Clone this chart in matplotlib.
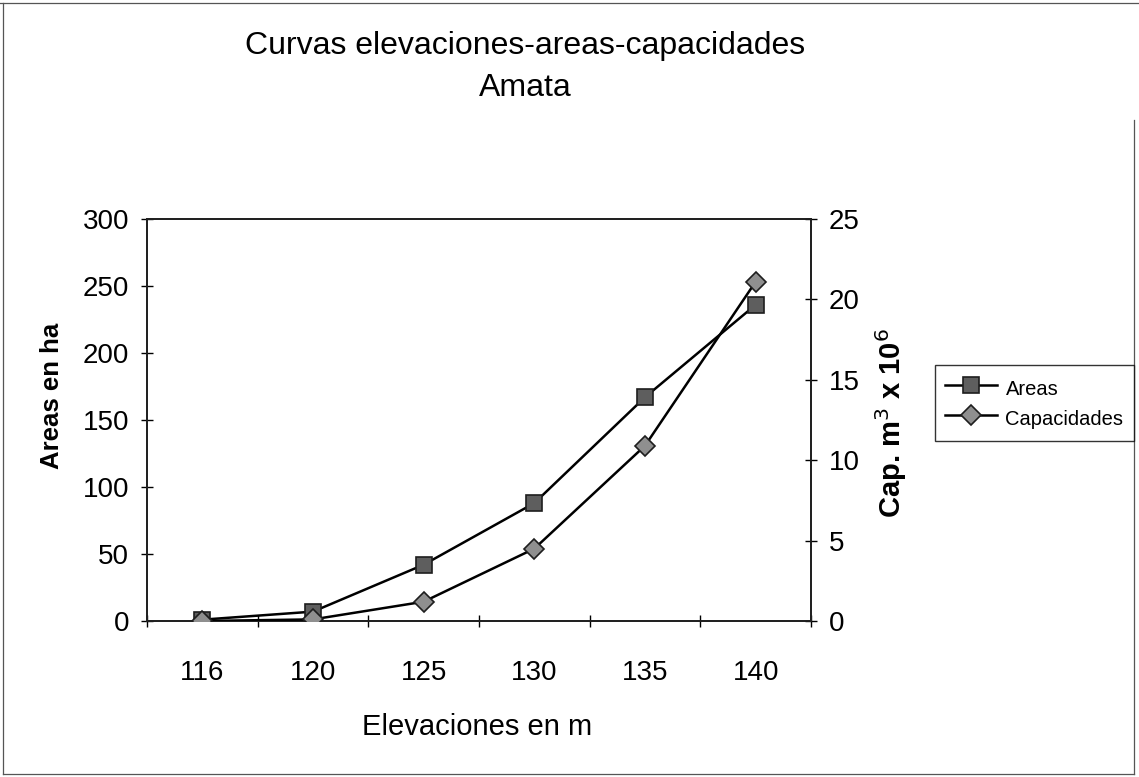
import matplotlib

matplotlib.use("Agg")

import matplotlib.pyplot as plt
from matplotlib.lines import Line2D

# Elevation-area-capacity table for the Amata reservoir
elevaciones = ["116", "120", "125", "130", "135", "140"]
areas_ha = [1, 7, 42, 88, 167, 236]
capacidades_hm3 = [0.0, 0.1, 1.2, 4.5, 10.9, 21.1]

plt.rcParams["font.family"] = ["Liberation Sans", "DejaVu Sans"]

W, H = 1139, 777
fig = plt.figure(figsize=(W / 100, H / 100), dpi=100)
ax = fig.add_axes([147 / W, 1 - 621 / H, 664 / W, 402 / H])
ax2 = ax.twinx()

pos = list(range(len(elevaciones)))
sq_style = dict(color="black", lw=1.8, marker="s", ms=11.5,
                mfc="#5e5e5e", mec="#1e1e1e", mew=1.2)
di_style = dict(color="black", lw=1.8, marker="D", ms=10.5,
                mfc="#8f8f8f", mec="#1e1e1e", mew=1.2)

ax.plot(pos, areas_ha, zorder=3, **sq_style)
ax2.plot(pos, capacidades_hm3, zorder=3, **di_style)

ax.set_xlim(-0.5, len(elevaciones) - 0.5)
ax.set_ylim(0, 300)
ax2.set_ylim(0, 25)
ax.set_yticks(range(0, 301, 50))
ax2.set_yticks(range(0, 26, 5))

# category labels sit between boundary tick marks
ax.set_xticks(pos)
ax.set_xticklabels(elevaciones)
ax.set_xticks([p - 0.5 for p in pos] + [pos[-1] + 0.5], minor=True)
ax.tick_params(axis="x", which="major", length=0, pad=28, labelsize=20)
ax.tick_params(axis="x", which="minor", direction="inout", length=8, width=1)
ax.tick_params(axis="y", direction="inout", length=8, width=1, pad=9,
               labelsize=20)
ax2.tick_params(axis="y", direction="inout", length=8, width=1, pad=9,
                labelsize=20)

for a in (ax, ax2):
    for side in a.spines.values():
        side.set_linewidth(1.3)
        side.set_color("#202020")

ax.set_ylabel("Areas en ha", fontsize=18.5, fontweight="bold")
ax.yaxis.set_label_coords(-0.125, 0.561)
ax2.set_ylabel("Cap. m$^3$ x 10$^6$", fontsize=21, fontweight="bold",
               rotation=90)
ax2.yaxis.set_label_coords(1.094, 0.4925)
ax.set_xlabel("Elevaciones en m", fontsize=21)
ax.xaxis.set_label_coords(0.497, -0.23)

fig.text(0.461, 1 - 46 / H, "Curvas elevaciones-areas-capacidades",
         ha="center", va="center", fontsize=23)
fig.text(0.461, 1 - 88 / H, "Amata", ha="center", va="center", fontsize=23)

handles = [Line2D([], [], **sq_style), Line2D([], [], **di_style)]
leg = fig.legend(handles, ["Areas", "Capacidades"], loc="upper left",
                 bbox_to_anchor=(935 / W, 1 - 365 / H), fontsize=14.5,
                 frameon=True, fancybox=False, edgecolor="black",
                 handlelength=2.6, handleheight=1.6, handletextpad=0.4,
                 borderpad=0.5, labelspacing=0.2, borderaxespad=0)
leg.get_frame().set_linewidth(1.0)

# outer chart-area border
for xs, ys in [((0, W), (3, 3)), ((3, 3), (3, 774)),
               ((3, W - 5), (774, 774)), ((W - 5, W - 5), (120, 774))]:
    fig.add_artist(Line2D([x / W for x in xs], [1 - y / H for y in ys],
                          transform=fig.transFigure, color="#555555", lw=0.9))

fig.savefig("out.png", dpi=100)
